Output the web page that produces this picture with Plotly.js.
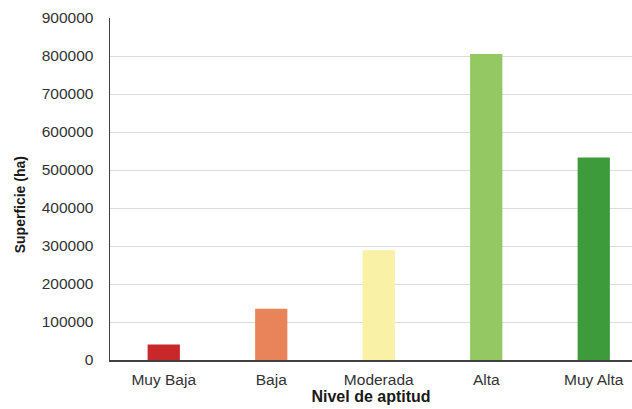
<!DOCTYPE html>
<html><head><meta charset="utf-8">
<script src="https://cdn.plot.ly/plotly-3.0.1.min.js"></script>
<style>html,body{margin:0;padding:0;background:#fff}#chart{width:632px;height:409px}</style>
</head><body><div id="chart"></div>
<script>
const categories = ["Muy Baja", "Baja", "Moderada", "Alta", "Muy Alta"];
const superficie = [41000, 135000, 289000, 805000, 533000];
const barColors = ["#c8282a", "#e9845a", "#f8f1a6", "#93c863", "#3d9b3b"];
const yTicks = [0, 100000, 200000, 300000, 400000, 500000, 600000, 700000, 800000, 900000];

Plotly.newPlot("chart", [{
  type: "bar",
  x: categories,
  y: superficie,
  marker: {color: barColors},
  hoverinfo: "none"
}], {
  width: 632, height: 409,
  margin: {l: 110, r: 0, t: 18, b: 49, pad: 0},
  paper_bgcolor: "#fff", plot_bgcolor: "#fff",
  bargap: 0.70,
  showlegend: false,
  font: {family: "Liberation Sans, Arial, sans-serif", size: 15.5, color: "#333"},
  xaxis: {
    type: "category",
    range: [-0.5, 4.356],
    showgrid: false,
    showline: true, linecolor: "#404040", linewidth: 1.5,
    ticks: "outside", ticklen: 5, tickcolor: "rgba(0,0,0,0)",
    tickfont: {size: 15.5, color: "#333"},
    title: {text: "<b>Nivel de aptitud</b>", font: {size: 16, color: "#1a1a1a"}, standoff: 3}
  },
  yaxis: {
    range: [0, 900000],
    tickvals: yTicks,
    ticktext: yTicks.map(String),
    showgrid: true, gridcolor: "#dcdcdc", gridwidth: 1,
    zeroline: false,
    showline: true, linecolor: "#404040", linewidth: 1.5,
    ticks: "outside", ticklen: 12, tickcolor: "rgba(0,0,0,0)",
    tickfont: {size: 15.5, color: "#333"}
  },
  annotations: [{
    text: "<b>Superficie (ha)</b>",
    xref: "paper", yref: "paper",
    x: -0.172, y: 0.453,
    xanchor: "center", yanchor: "middle",
    textangle: -90, showarrow: false,
    font: {size: 14, color: "#1a1a1a"}
  }]
}, {staticPlot: true, displayModeBar: false});
</script>
</body></html>
